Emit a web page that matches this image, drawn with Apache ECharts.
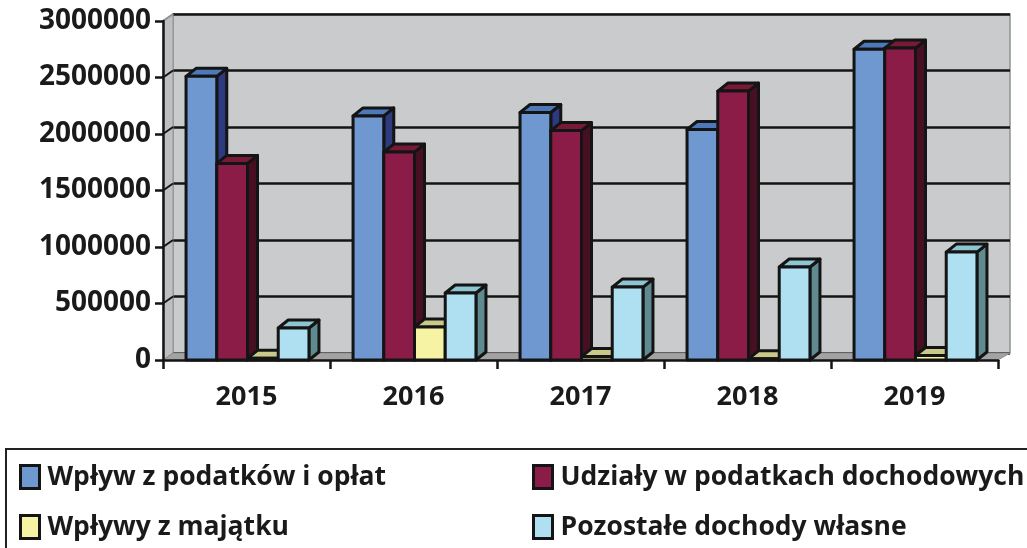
<!DOCTYPE html>
<html>
<head>
<meta charset="utf-8">
<title>Dochody</title>
<script src="https://cdn.jsdelivr.net/npm/echarts@6/dist/echarts.min.js"></script>
<style>
  html, body { margin: 0; padding: 0; background: #fff; }
  #chart { width: 1027px; height: 548px; }
</style>
</head>
<body>
<div id="chart"></div>
<script>
  const categories = ['2015', '2016', '2017', '2018', '2019'];
  const seriesNames = ['Wpływ z podatków i opłat', 'Udziały w podatkach dochodowych', 'Wpływy z majątku', 'Pozostałe dochody własne'];
  const podatkiValues = [2510000, 2160000, 2190000, 2040000, 2750000];
  const udzialyValues = [1740000, 1840000, 2030000, 2380000, 2760000];
  const majatekValues = [15000, 292000, 30000, 10000, 40000];
  const pozostaleValues = [283000, 593000, 645000, 823000, 955000];
  const yTicks = [0, 500000, 1000000, 1500000, 2000000, 2500000, 3000000];

  const depthX = 10, depthY = -8;
  const line = '#141414';
  const fontFamily = '"Open Sans", sans-serif';

  // front, top and side colour of each bar
  const faces = [
    ['#6f97d0', '#4d78ba', '#2e3a7e'],
    ['#8b1c47', '#761a38', '#480e22'],
    ['#f6f3a4', '#c9c98c', '#8d8d62'],
    ['#aee0f1', '#8dc5d2', '#5f8b90']
  ];

  function bar3d(seriesIndex) {
    return function (params, api) {
      const band = api.size([1, 0])[0];
      const w = band * 0.184;
      const top = api.coord([api.value(0), api.value(1)]);
      const base = api.coord([api.value(0), 0]);
      const x0 = top[0] + 1 + (seriesIndex - 2) * w;
      const x1 = x0 + w;
      const y0 = top[1], y1 = base[1];
      const col = faces[seriesIndex];
      const border = { stroke: line, lineWidth: 3, lineJoin: 'round' };
      return {
        type: 'group',
        children: [
          { type: 'polygon', shape: { points: [[x1, y0], [x1 + depthX, y0 + depthY], [x1 + depthX, y1 + depthY], [x1, y1]] }, style: { fill: col[2], ...border } },
          { type: 'polygon', shape: { points: [[x0, y0], [x0 + depthX, y0 + depthY], [x1 + depthX, y0 + depthY], [x1, y0]] }, style: { fill: col[1], ...border } },
          { type: 'rect', shape: { x: x0, y: y0, width: w, height: y1 - y0 }, style: { fill: col[0], ...border } }
        ]
      };
    };
  }

  // side wall, floor and slanted tick joints of the 3D box
  function box3d(params, api) {
    const cs = params.coordSys;
    const left = cs.x, right = cs.x + cs.width, top = cs.y, bottom = cs.y + cs.height;
    const children = [
      { type: 'polygon', shape: { points: [[left, top], [left + depthX, top - 7], [left + depthX, bottom - 7], [left, bottom]] }, style: { fill: '#bdbfc0', stroke: '#8e9292', lineWidth: 1 } },
      { type: 'polygon', shape: { points: [[left, bottom], [left + depthX, bottom - 7], [right + depthX + 2, bottom - 7], [right, bottom]] }, style: { fill: '#a3a3a3', stroke: '#8e8e8e', lineWidth: 1 } }
    ];
    yTicks.forEach(function (v) {
      const p = api.coord([0, v]);
      if (v > 0) {
        children.push({ type: 'line', shape: { x1: left, y1: p[1], x2: left + depthX, y2: p[1] - 7 }, style: { stroke: v === 3000000 ? '#8e9292' : line, lineWidth: 2 } });
      }
    });
    return { type: 'group', children: children };
  }

  const allValues = [podatkiValues, udzialyValues, majatekValues, pozostaleValues];

  const legendText = { color: '#1a1a1a', fontSize: 26.5, fontWeight: 'bold', fontFamily: fontFamily, lineHeight: 36, padding: [0, 0, 0, 3] };

  const option = {
    animation: false,
    backgroundColor: '#fff',
    textStyle: { fontFamily: fontFamily },
    grid: [
      { left: 163, right: 29, top: 21, bottom: 188 },
      { left: 173, right: 17, top: 14, bottom: 195, show: true, backgroundColor: '#c9cbcc', borderColor: '#8e9292', borderWidth: 1.5, z: 0 }
    ],
    xAxis: [
      {
        type: 'category',
        gridIndex: 0,
        data: categories,
        axisLine: { lineStyle: { color: line, width: 2.5 } },
        axisTick: { show: true, length: 9, lineStyle: { color: line, width: 2.5 } },
        axisLabel: { color: '#1a1a1a', fontSize: 27, fontWeight: 'bold', fontFamily: fontFamily, margin: 24 },
        z: 5
      },
      { type: 'category', gridIndex: 1, data: categories, show: false }
    ],
    yAxis: [
      {
        type: 'value',
        gridIndex: 0,
        min: 0,
        max: 3000000,
        interval: 500000,
        axisLine: { show: true, lineStyle: { color: line, width: 2.5 } },
        axisTick: { show: true, length: 8, lineStyle: { color: line, width: 2.5 } },
        axisLabel: {
          color: '#1a1a1a', fontSize: 28, fontWeight: 'bold', fontFamily: fontFamily, margin: 12,
          padding: [3, 0, 0, 0],
          formatter: function (v) { return String(v); }
        },
        splitLine: { show: false },
        z: 5
      },
      {
        type: 'value',
        gridIndex: 1,
        min: 0,
        max: 3000000,
        interval: 500000,
        axisLine: { show: false },
        axisTick: { show: false },
        axisLabel: { show: false },
        splitLine: { show: true, lineStyle: { color: line, width: 2.5 } },
        z: 1
      }
    ],
    legend: [
      {
        data: [seriesNames[0], seriesNames[2]],
        orient: 'vertical',
        left: 19,
        top: 459,
        itemWidth: 19,
        itemHeight: 23,
        itemGap: 14,
        icon: 'rect',
        padding: 0,
        selectedMode: false,
        itemStyle: { borderColor: line, borderWidth: 3 },
        textStyle: legendText
      },
      {
        data: [seriesNames[1], seriesNames[3]],
        orient: 'vertical',
        left: 532,
        top: 459,
        itemWidth: 19,
        itemHeight: 23,
        itemGap: 14,
        icon: 'rect',
        padding: 0,
        selectedMode: false,
        itemStyle: { borderColor: line, borderWidth: 3 },
        textStyle: legendText
      }
    ],
    graphic: [
      { type: 'rect', shape: { x: 6, y: 449, width: 1040, height: 120 }, style: { fill: 'none', stroke: '#222', lineWidth: 2 }, z: 0 }
    ],
    series: [
      {
        type: 'custom',
        name: 'box',
        xAxisIndex: 0,
        yAxisIndex: 0,
        renderItem: box3d,
        data: [[0, 0]],
        clip: false,
        silent: true,
        z: 2
      }
    ].concat(allValues.map(function (values, i) {
      return {
        type: 'custom',
        name: seriesNames[i],
        xAxisIndex: 0,
        yAxisIndex: 0,
        renderItem: bar3d(i),
        encode: { x: 0, y: 1 },
        data: values.map(function (v, k) { return [k, v]; }),
        itemStyle: { color: faces[i][0] },
        clip: false,
        z: 3
      };
    }))
  };

  const myChart = echarts.init(document.getElementById('chart'), null, { renderer: 'canvas' });
  myChart.setOption(option);
</script>
</body>
</html>
